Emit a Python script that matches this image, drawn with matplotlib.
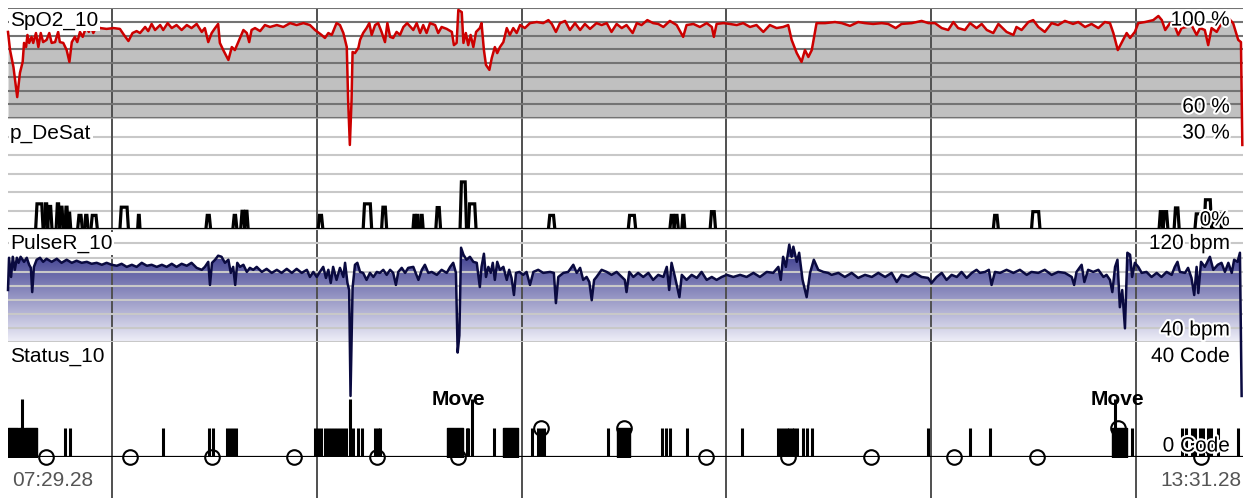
import matplotlib.pyplot as plt
import matplotlib.patheffects as pe
from matplotlib.colors import LinearSegmentedColormap
import numpy as np

plt.rcParams['font.family'] = ['Liberation Sans', 'DejaVu Sans']

# Recording: 07:29:28 -> 13:31:28, time in minutes from start
start_label = '07:29.28'
end_label = '13:31.28'
start_min_of_day = 7 * 60 + 29 + 28 / 60
duration = 362.0
hours = [8, 9, 10, 11, 12, 13]

# SpO2 (%)
spo2_t = [0.0, 0.6, 1.6, 2.7, 3.5, 4.3, 4.7, 5.3, 5.7, 6.2,
          6.9, 7.4, 8.2, 8.9, 9.6, 10.3, 11.3, 12.1, 12.8, 13.8,
          14.7, 15.2, 16.2, 17.2, 18.0, 18.7, 19.6, 20.3, 21.1, 21.9,
          22.9, 23.7, 24.2, 25.0, 26.0, 27.0, 28.9, 30.9, 32.8, 34.0,
          35.3, 36.5, 37.7, 38.7, 40.2, 41.1, 42.1, 43.1, 44.6, 45.5,
          46.8, 48.0, 49.4, 50.9, 52.4, 53.8, 55.3, 56.8, 57.7, 58.7,
          59.7, 60.7, 61.6, 62.1, 63.1, 64.6, 65.6, 66.5, 67.5, 69.0,
          70.0, 70.7, 71.4, 72.4, 73.9, 75.3, 76.8, 78.8, 80.7, 82.7,
          84.6, 86.6, 88.5, 90.0, 91.9, 92.9, 93.9, 94.9, 96.3, 97.3,
          98.3, 99.3, 99.7, 100.2, 100.7, 101.0, 101.7, 102.7, 103.2, 104.1,
          105.1, 105.9, 106.6, 107.6, 108.5, 109.5, 110.5, 111.2, 112.0, 112.9,
          113.9, 114.9, 115.9, 117.0, 118.8, 119.8, 120.8, 121.7, 122.7, 123.7,
          125.2, 126.1, 127.1, 128.6, 130.1, 130.7, 131.5, 132.0, 133.0, 133.5,
          134.2, 134.9, 135.6, 136.4, 137.2, 138.3, 138.8, 139.5, 140.1, 141.1,
          141.8, 142.7, 143.4, 144.2, 145.2, 146.2, 147.1, 148.1, 149.1, 150.1,
          151.5, 153.0, 155.0, 156.9, 158.4, 159.4, 160.6, 161.8, 163.3, 164.7,
          166.2, 167.7, 169.1, 170.6, 172.5, 174.0, 175.5, 176.9, 178.4, 179.9,
          181.3, 183.1, 184.3, 185.7, 187.4, 189.1, 190.6, 192.1, 194.0, 196.0,
          197.9, 198.9, 200.9, 202.8, 204.8, 206.3, 206.9, 207.7, 209.7, 211.6,
          213.6, 215.5, 217.5, 219.4, 221.4, 223.3, 225.3, 227.2, 228.7, 229.7,
          231.2, 232.6, 233.6, 234.6, 235.6, 236.5, 237.0, 239.5, 242.4, 244.4,
          246.8, 249.2, 251.2, 253.6, 256.1, 258.0, 260.2, 261.9, 264.9, 267.8,
          269.8, 271.7, 273.7, 275.6, 277.1, 278.5, 280.5, 282.0, 283.9, 285.4,
          286.9, 288.8, 290.3, 292.7, 294.7, 295.6, 297.1, 299.1, 300.5, 302.0,
          303.9, 305.9, 307.8, 309.8, 312.2, 313.7, 315.7, 317.6, 319.6, 321.5,
          323.0, 324.0, 325.3, 326.4, 327.9, 328.9, 330.3, 331.3, 333.3, 335.7,
          337.2, 338.2, 339.2, 340.6, 342.1, 343.0, 344.0, 345.5, 346.9, 348.4,
          349.4, 350.8, 351.8, 352.8, 354.3, 355.7, 357.7, 359.1, 360.6, 361.4,
          361.8]
spo2 = [91.3, 84.7, 78.5, 67.6, 76.4, 80.4, 87.3, 85.8, 90.2, 87.3,
        89.5, 87.3, 90.9, 85.8, 90.9, 87.6, 88.4, 90.9, 87.3, 87.6,
        91.3, 87.6, 87.3, 84.7, 80.4, 87.6, 89.5, 87.6, 91.3, 89.5,
        93.1, 91.3, 93.8, 90.9, 93.5, 92.7, 92.4, 92.7, 92.4, 90.2,
        88.0, 90.9, 91.6, 90.9, 93.1, 91.6, 94.2, 92.0, 93.8, 92.0,
        94.5, 92.7, 93.8, 92.0, 93.8, 92.7, 94.2, 91.3, 92.7, 87.6,
        90.9, 92.7, 94.2, 87.3, 84.7, 81.1, 85.8, 84.7, 87.6, 92.0,
        90.9, 87.6, 92.0, 92.7, 91.6, 93.8, 93.1, 93.8, 93.1, 94.5,
        93.8, 94.5, 93.8, 92.0, 90.2, 89.1, 90.9, 90.2, 94.5, 93.8,
        90.9, 85.8, 66.5, 50.2, 66.5, 84.0, 83.6, 85.5, 88.4, 90.9,
        92.7, 94.5, 90.2, 93.8, 94.5, 91.3, 87.6, 94.5, 89.5, 89.1,
        91.3, 90.2, 93.1, 94.5, 92.0, 94.5, 90.9, 93.8, 90.9, 94.5,
        93.8, 90.9, 93.1, 92.4, 91.3, 86.5, 87.3, 99.3, 98.5, 87.3,
        90.9, 86.5, 90.2, 85.8, 91.3, 92.7, 94.5, 84.7, 79.3, 77.5,
        81.8, 85.8, 83.6, 85.8, 87.6, 92.7, 90.2, 92.7, 90.9, 93.8,
        92.7, 94.5, 94.9, 94.5, 95.6, 94.2, 91.3, 94.5, 95.3, 92.0,
        94.5, 92.0, 94.2, 92.4, 94.5, 93.8, 94.5, 91.3, 94.2, 92.7,
        93.8, 90.9, 94.5, 93.8, 95.6, 94.5, 94.2, 93.1, 95.3, 93.8,
        89.5, 93.8, 94.2, 93.1, 94.5, 93.1, 89.5, 94.2, 94.5, 94.2,
        93.8, 94.5, 93.1, 93.8, 91.3, 93.8, 92.7, 93.1, 93.8, 88.4,
        83.6, 80.4, 84.7, 82.2, 84.7, 90.9, 94.5, 94.5, 94.9, 94.5,
        93.5, 94.9, 94.5, 94.2, 94.5, 94.2, 92.7, 94.2, 94.5, 95.3,
        94.5, 94.5, 92.7, 92.0, 94.9, 92.7, 92.0, 94.5, 92.7, 94.2,
        92.0, 90.9, 94.2, 91.3, 90.2, 93.1, 92.0, 94.9, 95.6, 93.1,
        91.3, 94.5, 93.8, 95.3, 94.2, 94.9, 93.1, 94.2, 92.7, 94.9,
        94.5, 90.9, 84.7, 87.3, 90.9, 89.1, 91.3, 94.5, 94.9, 95.6,
        97.1, 95.6, 92.0, 94.5, 93.1, 90.2, 92.7, 93.1, 93.8, 90.2,
        92.7, 92.0, 86.5, 92.7, 91.3, 94.5, 96.4, 94.5, 88.4, 87.6,
        50.2]

# desaturation events (%)
desat_start = [8.1, 10.6, 11.6, 14.1, 15.1, 16.7, 17.4, 20.4, 22.4, 24.3,
               32.8, 38.0, 58.0, 65.9, 68.2, 69.3, 90.9, 104.1, 109.5, 118.7,
               119.7, 120.8, 125.4, 132.5, 134.9, 158.4, 181.8, 194.0, 195.2, 197.5,
               205.8, 288.8, 300.0, 337.4, 338.6, 341.8, 347.9, 350.6, 353.3]
desat_end = [10.3, 11.7, 12.9, 15.2, 16.2, 17.6, 18.4, 21.8, 23.5, 26.2,
             35.3, 38.7, 59.4, 67.1, 69.4, 70.4, 92.3, 106.6, 111.0, 119.6,
             120.3, 121.7, 126.8, 134.4, 137.2, 160.3, 184.0, 195.3, 196.5, 198.4,
             207.4, 290.3, 302.5, 338.5, 340.0, 343.3, 350.3, 352.8, 355.7]
desat_peak = [6.9, 6.9, 6.2, 6.9, 6.0, 6.0, 4.4, 3.8, 3.8, 3.8,
              6.0, 3.8, 3.8, 3.8, 4.9, 4.9, 3.8, 6.9, 6.0, 3.8,
              3.8, 3.8, 5.9, 12.8, 6.9, 3.8, 3.8, 3.8, 3.8, 3.8,
              4.8, 3.8, 4.8, 4.8, 4.8, 5.8, 4.2, 8.0, 4.2]

# pulse rate (bpm)
pulse_t = [0.0, 0.3, 0.9, 1.4, 2.0, 2.6, 3.1, 3.7, 4.7, 5.5,
           6.2, 6.7, 7.1, 7.6, 8.4, 9.4, 10.3, 11.3, 12.8, 14.3,
           15.7, 17.2, 18.7, 20.1, 21.6, 23.1, 24.5, 26.0, 27.5, 28.9,
           30.4, 31.9, 33.3, 34.8, 36.3, 37.7, 39.2, 40.7, 42.1, 43.6,
           45.1, 46.5, 48.0, 49.4, 50.9, 52.4, 53.8, 55.3, 56.8, 57.7,
           58.7, 59.2, 59.8, 60.7, 61.6, 62.6, 63.6, 64.6, 65.3, 66.0,
           66.6, 67.2, 68.0, 69.0, 70.0, 70.9, 71.9, 72.9, 74.4, 75.8,
           77.3, 78.8, 80.2, 81.7, 83.2, 84.6, 86.1, 87.6, 88.5, 89.5,
           90.5, 91.4, 92.4, 93.2, 93.9, 94.6, 95.3, 96.3, 97.3, 98.3,
           98.8, 99.5, 100.0, 100.4, 101.0, 101.7, 102.4, 103.2, 104.1, 105.1,
           106.1, 107.1, 108.1, 109.0, 110.0, 111.0, 112.0, 112.9, 113.7, 114.4,
           115.4, 116.4, 117.3, 118.8, 120.3, 121.3, 122.2, 123.2, 124.2, 125.7,
           127.1, 128.6, 129.6, 130.5, 131.3, 131.8, 132.3, 132.8, 133.5, 134.4,
           135.4, 136.4, 137.4, 138.3, 138.8, 139.5, 140.1, 140.8, 141.5, 142.1,
           142.7, 143.4, 144.2, 145.2, 146.2, 146.9, 147.6, 148.3, 148.9, 149.9,
           151.0, 152.0, 153.0, 154.0, 155.4, 156.9, 158.9, 160.0, 160.6, 161.3,
           162.8, 164.2, 165.7, 166.7, 167.7, 168.6, 169.6, 170.4, 171.1, 171.8,
           172.5, 174.0, 175.5, 176.9, 178.4, 179.9, 180.8, 181.3, 182.1, 183.3,
           184.7, 186.2, 187.7, 189.1, 190.6, 192.1, 193.1, 193.8, 194.5, 195.5,
           196.8, 197.5, 198.9, 200.4, 201.9, 203.3, 204.8, 206.3, 207.7, 209.2,
           210.7, 212.6, 214.6, 216.5, 218.5, 220.4, 222.4, 224.3, 225.8, 226.5,
           227.2, 228.0, 229.0, 229.7, 230.2, 231.2, 231.9, 232.9, 234.1, 235.1,
           236.2, 237.5, 239.0, 240.4, 241.4, 243.4, 245.3, 247.3, 249.2, 251.2,
           253.2, 255.1, 257.1, 259.0, 260.5, 261.9, 263.9, 265.8, 267.8, 269.7,
           270.7, 272.2, 273.7, 275.1, 276.6, 278.1, 279.5, 281.0, 282.5, 283.9,
           284.9, 286.4, 287.5, 288.3, 289.3, 290.8, 292.7, 294.7, 296.6, 298.6,
           300.0, 302.0, 303.9, 305.9, 307.8, 309.8, 311.8, 312.5, 313.2, 314.7,
           315.5, 316.6, 318.1, 319.6, 321.1, 322.0, 323.0, 323.7, 324.5, 325.2,
           325.9, 326.6, 327.4, 328.1, 328.9, 329.5, 330.3, 331.3, 332.3, 333.7,
           335.2, 336.7, 338.1, 339.6, 341.1, 342.0, 342.8, 343.5, 345.0, 345.9,
           346.9, 347.7, 348.4, 348.9, 349.7, 350.8, 352.3, 353.3, 354.6, 355.7,
           356.7, 357.7, 358.7, 359.4, 360.4, 361.1, 361.6]
pulse = [76.8, 99.8, 86.1, 100.5, 91.2, 99.8, 96.2, 100.5, 96.9, 99.8,
         94.8, 92.6, 75.3, 93.3, 98.4, 99.8, 96.9, 99.1, 96.9, 99.1,
         96.2, 98.4, 96.2, 97.7, 96.2, 96.9, 95.5, 96.2, 94.8, 96.2,
         94.8, 94.1, 95.5, 93.3, 94.8, 93.3, 96.2, 94.1, 94.8, 93.3,
         94.8, 93.3, 95.5, 93.3, 95.5, 94.1, 96.2, 92.6, 91.2, 93.3,
         96.9, 80.4, 96.2, 98.4, 101.3, 100.5, 96.2, 98.4, 89.0, 93.3,
         80.4, 96.2, 93.3, 94.8, 89.7, 92.6, 91.2, 93.3, 89.7, 91.9,
         89.0, 91.2, 89.0, 91.9, 89.0, 91.9, 89.0, 91.2, 86.1, 89.7,
         86.1, 89.7, 93.3, 85.4, 91.2, 81.8, 93.3, 84.0, 92.6, 86.1,
         96.2, 81.8, 76.8, 1.1, 78.2, 94.8, 96.2, 89.7, 89.0, 84.0,
         89.0, 86.1, 89.7, 89.0, 91.2, 87.6, 91.2, 89.0, 80.4, 89.7,
         92.6, 89.0, 92.6, 93.3, 84.0, 91.2, 94.8, 89.0, 89.7, 87.6,
         91.2, 89.0, 93.3, 96.2, 89.0, 32.1, 44.3, 107.0, 102.0, 98.4,
         100.5, 96.9, 96.2, 78.9, 93.3, 102.7, 86.1, 93.3, 89.0, 96.2,
         84.0, 96.9, 91.2, 93.3, 84.0, 91.2, 85.4, 73.2, 89.0, 89.7,
         87.6, 89.7, 80.4, 89.7, 91.2, 89.0, 89.7, 89.0, 67.4, 86.1,
         89.0, 89.7, 94.8, 89.0, 92.6, 84.0, 86.1, 82.5, 69.5, 84.0,
         86.1, 91.2, 89.7, 87.6, 89.7, 86.1, 84.0, 75.3, 89.7, 86.1,
         89.0, 86.1, 89.0, 84.0, 87.6, 86.1, 93.3, 76.8, 96.2, 86.1,
         71.7, 87.6, 84.0, 87.6, 85.4, 89.7, 84.0, 86.1, 84.0, 86.1,
         87.6, 86.1, 87.6, 86.1, 89.0, 86.1, 89.7, 89.0, 93.3, 84.0,
         100.5, 93.3, 109.2, 100.5, 107.7, 96.9, 103.4, 84.0, 71.7, 89.0,
         98.4, 91.2, 89.7, 89.0, 87.6, 89.0, 86.1, 89.0, 85.4, 87.6,
         86.1, 89.0, 86.1, 89.0, 82.5, 87.6, 86.1, 89.0, 86.1, 85.4,
         81.8, 86.1, 89.0, 84.0, 87.6, 86.1, 89.7, 85.4, 89.0, 91.2,
         89.0, 89.7, 91.2, 80.4, 89.7, 89.0, 91.2, 89.0, 91.2, 87.6,
         89.7, 89.0, 91.2, 87.6, 89.7, 89.0, 86.1, 80.4, 89.7, 94.8,
         82.5, 91.2, 89.7, 91.2, 86.1, 87.6, 84.0, 75.3, 93.3, 98.4,
         64.5, 76.8, 49.4, 103.4, 102.0, 86.1, 96.2, 93.3, 89.0, 89.7,
         86.1, 89.0, 86.1, 89.7, 87.6, 93.3, 96.9, 89.7, 89.0, 92.6,
         85.4, 73.2, 93.3, 74.6, 96.9, 93.3, 100.5, 91.2, 94.8, 96.2,
         89.7, 96.2, 89.0, 98.4, 96.9, 103.4, 1.1]

# status codes
block_start = [0.1, 3.2, 5.1, 128.8, 145.2, 178.4, 323.5]
block_end = [2.9, 4.8, 8.6, 133.5, 149.6, 182.3, 327.9]
block_code = [10, 10, 10, 10, 10, 10, 10]
spike_t = [4.0, 16.7, 18.2, 45.5, 59.0, 60.2, 64.1, 65.1, 66.0, 66.8,
           90.0, 90.9, 91.8, 93.0, 93.8, 94.7, 95.6, 96.4, 97.3, 98.2,
           99.1, 100.2, 101.1, 102.7, 103.8, 107.6, 108.5, 109.0, 134.4, 134.8,
           135.9, 142.4, 153.7, 155.3, 156.2, 157.2, 176.0, 191.6, 192.9, 194.0,
           198.9, 215.1, 225.8, 226.6, 227.5, 228.2, 229.0, 229.8, 230.5, 231.2,
           233.0, 234.2, 235.7, 269.8, 282.0, 287.8, 324.5, 329.4, 344.1, 345.3,
           347.0, 347.9, 349.4, 350.3, 351.7, 352.6, 354.7, 360.5]
spike_code = [20, 10, 10, 10, 10, 10, 10, 10, 10, 10,
              10, 10, 10, 10, 10, 10, 10, 10, 10, 10,
              10, 20, 10, 10, 10, 10, 10, 10, 10, 10,
              20, 10, 10, 10, 10, 10, 10, 10, 10, 10,
              10, 10, 10, 10, 10, 10, 10, 10, 10, 10,
              10, 10, 10, 10, 10, 10, 20, 10, 10, 10,
              10, 10, 10, 10, 10, 10, 10, 10]
marker_t = [11.1, 35.8, 59.8, 83.8, 108.2, 131.9, 156.2, 180.6, 204.6, 228.6,
            252.9, 277.3, 301.6, 325.3, 349.7]
marker_code = [0, 0, 0, 0, 0, 0, 10, 10, 0, 0, 0, 0, 0, 10, 0]
move_t = [131.9, 325.3]

# ---- layout (pixel rows of the 1245x498 canvas) ----
W, H = 1245, 498
fig = plt.figure(figsize=(W / 100, H / 100), dpi=100)
fig.patch.set_facecolor('white')
left, width = 8 / W, 1235 / W
hour_marks = [h * 60 - start_min_of_day for h in hours]
vcol = '#505050'


def panel(top, bottom, ylim, z):
    ax = fig.add_axes([left, 1 - bottom / H, width, (bottom - top) / H])
    ax.set_facecolor('none')
    ax.set_xlim(0, duration)
    ax.set_ylim(*ylim)
    ax.axis('off')
    ax.set_zorder(z)
    for hm in hour_marks:
        ax.axvline(hm, color=vcol, lw=1.4, zorder=2)
    return ax


halo = [pe.withStroke(linewidth=3, foreground='white')]
fs = 15


def labels(ax, name, top_txt, bot_txt, ytop, ybot):
    ax.text(0.0016, ytop, name, transform=ax.transAxes, ha='left', va='center',
            fontsize=fs, zorder=6,
            bbox=dict(facecolor='white', edgecolor='none', pad=1))
    ax.text(0.9895, ytop, top_txt, transform=ax.transAxes, ha='right',
            va='center', fontsize=fs, zorder=6, path_effects=halo)
    ax.text(0.9895, ybot, bot_txt, transform=ax.transAxes, ha='right',
            va='center', fontsize=fs, zorder=6, path_effects=halo)


# SpO2
ax1 = panel(8, 118, (60, 100), 4)
ax1.fill_between(spo2_t, spo2, 60, color='#c0c0c0', lw=0, zorder=1)
for g in range(60, 101, 5):
    ax1.axhline(g, color='#737373', lw=1.5, zorder=2)
ax1.plot(spo2_t, spo2, color='#cc0000', lw=1.8, zorder=4, clip_on=False)
labels(ax1, 'SpO2_10', '100 %', '60 %', 0.89, 0.10)

# p_DeSat
ax2 = panel(118, 229.5, (0, 30), 3)
for g in range(5, 31, 5):
    ax2.axhline(g, color='#c8c8c8', lw=1.5, zorder=1)
ax2.axhline(0, color='black', lw=1.6, zorder=3)
for s, e, p in zip(desat_start, desat_end, desat_peak):
    r = min(0.4, (e - s) / 3)
    ax2.plot([s, s + r, e - r, e], [0, p, p, 0], color='black', lw=2.3,
             zorder=4, solid_joinstyle='miter')
labels(ax2, 'p_DeSat', '30 %', '0%', 0.865, 0.085)

# PulseR
ax3 = panel(229.5, 341.5, (40, 120), 2)
fill = ax3.fill_between(pulse_t, pulse, 40, facecolor='none', edgecolor='none')
cmap = LinearSegmentedColormap.from_list('pr', [(0.05, 0.05, 0.45), (0.93, 0.93, 0.97)])
im = ax3.imshow(np.linspace(0, 1, 256)[:, None], extent=[0, duration, 40, 120],
                aspect='auto', cmap=cmap, origin='upper', zorder=1)
im.set_clip_path(fill.get_paths()[0], transform=ax3.transData)
ax3.set_xlim(0, duration)
ax3.set_ylim(40, 120)
for g in range(40, 121, 10):
    ax3.axhline(g, color='#c8c8c8', lw=1.5, zorder=2)
ax3.plot(pulse_t, pulse, color='#0a0a40', lw=1.8, zorder=4, clip_on=False)
labels(ax3, 'PulseR_10', '120 bpm', '40 bpm', 0.875, 0.103)

# Status
ax4 = panel(341.5, 457, (0, 40), 1)
ax4.axhline(0, color='black', lw=1.6, zorder=3)
for s, e, c in zip(block_start, block_end, block_code):
    ax4.fill_between([s, e], 0, c, color='black', lw=1, zorder=3)
ax4.vlines(spike_t, 0, spike_code, color='black', lw=2.2, zorder=3)
ax4.plot(marker_t, marker_code, 'o', mfc='none', mec='black', ms=10.5, mew=1.5,
         zorder=5, clip_on=False)
for mt in move_t:
    ax4.text(mt, 19.8, 'Move', ha='center', va='center', fontsize=fs,
             fontweight='bold', zorder=6)
labels(ax4, 'Status_10', '40 Code', '0 Code', 0.87, 0.095)

# time strip
ax5 = panel(457, 498, (0, 1), 0)
ax5.text(0.003, 0.415, start_label, transform=ax5.transAxes, ha='left',
         va='center', fontsize=fs, color='#555555')
ax5.text(0.9985, 0.415, end_label, transform=ax5.transAxes, ha='right',
         va='center', fontsize=fs, color='#555555')

fig.savefig('out.png', dpi=100)
